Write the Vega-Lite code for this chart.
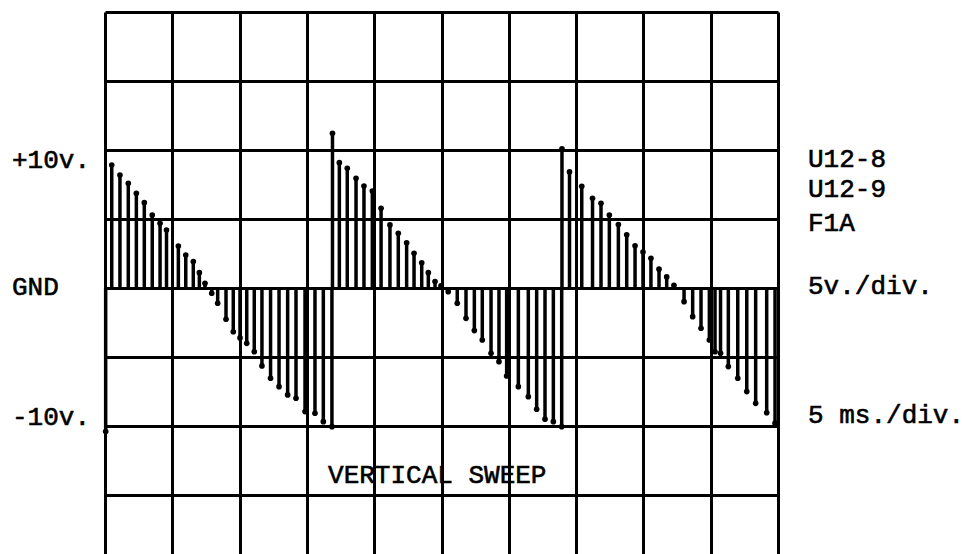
{
  "$schema": "https://vega.github.io/schema/vega-lite/v6.json",
  "width": 673,
  "height": 542,
  "autosize": {"type": "none"},
  "padding": {"left": 105, "top": 12, "right": 189, "bottom": 0},
  "background": "white",
  "config": {"view": {"stroke": null}},
  "datasets": {
    "trace": [
      {"t": 0.05, "v": -10.4},
      {"t": 0.50, "v": 8.91}, {"t": 1.11, "v": 8.19}, {"t": 1.73, "v": 7.59}, {"t": 2.33, "v": 6.86},
      {"t": 2.92, "v": 6.18}, {"t": 3.51, "v": 5.29}, {"t": 4.09, "v": 4.69}, {"t": 4.57, "v": 4.20},
      {"t": 5.45, "v": 3.04}, {"t": 6.00, "v": 2.39}, {"t": 6.56, "v": 1.91}, {"t": 7.01, "v": 1.11},
      {"t": 7.43, "v": 0.34}, {"t": 7.93, "v": -0.38}, {"t": 8.37, "v": -1.11}, {"t": 8.99, "v": -2.27},
      {"t": 9.53, "v": -3.17}, {"t": 10.03, "v": -3.62}, {"t": 10.53, "v": -4.01}, {"t": 11.09, "v": -4.62},
      {"t": 11.66, "v": -5.65}, {"t": 12.30, "v": -6.54}, {"t": 12.93, "v": -7.15}, {"t": 13.57, "v": -7.75},
      {"t": 14.19, "v": -7.99}, {"t": 14.86, "v": -8.96}, {"t": 15.60, "v": -9.08}, {"t": 16.22, "v": -9.69},
      {"t": 16.86, "v": -10.05}, {"t": 16.90, "v": 11.21},
      {"t": 17.41, "v": 9.08}, {"t": 18.00, "v": 8.67}, {"t": 18.65, "v": 7.95}, {"t": 19.24, "v": 7.39},
      {"t": 19.86, "v": 7.03}, {"t": 20.51, "v": 5.78}, {"t": 21.17, "v": 4.57}, {"t": 21.79, "v": 3.96},
      {"t": 22.41, "v": 3.28}, {"t": 22.96, "v": 2.51}, {"t": 23.53, "v": 1.83}, {"t": 24.02, "v": 1.11},
      {"t": 24.52, "v": 0.46}, {"t": 24.96, "v": 0.15}, {"t": 25.50, "v": -0.27}, {"t": 26.17, "v": -1.11},
      {"t": 26.82, "v": -2.20}, {"t": 27.44, "v": -3.09}, {"t": 28.03, "v": -3.77}, {"t": 28.68, "v": -4.73},
      {"t": 29.27, "v": -5.34}, {"t": 29.84, "v": -6.38}, {"t": 30.71, "v": -7.15}, {"t": 31.45, "v": -7.88},
      {"t": 32.07, "v": -8.79}, {"t": 32.69, "v": -9.51}, {"t": 33.31, "v": -9.69}, {"t": 33.93, "v": -10.05},
      {"t": 33.95, "v": 10.09},
      {"t": 34.51, "v": 8.41}, {"t": 35.42, "v": 7.37}, {"t": 36.22, "v": 6.50}, {"t": 36.85, "v": 6.14},
      {"t": 37.47, "v": 5.29}, {"t": 38.14, "v": 4.60}, {"t": 38.76, "v": 3.86}, {"t": 39.38, "v": 3.06},
      {"t": 39.97, "v": 2.61}, {"t": 40.56, "v": 2.15}, {"t": 41.16, "v": 1.36}, {"t": 41.73, "v": 0.80},
      {"t": 42.27, "v": 0.20}, {"t": 43.02, "v": -0.99}, {"t": 43.66, "v": -2.08}, {"t": 44.28, "v": -2.92},
      {"t": 44.90, "v": -3.77}, {"t": 45.32, "v": -4.62}, {"t": 45.73, "v": -4.73}, {"t": 46.31, "v": -5.70},
      {"t": 47.01, "v": -6.54}, {"t": 47.68, "v": -7.51}, {"t": 48.34, "v": -8.36}, {"t": 49.16, "v": -9.04},
      {"t": 49.78, "v": -9.80}
    ],
    "labels": [
      {"label": "+10v.", "t": -6.91, "v": 8.70},
      {"label": "GND", "t": -6.91, "v": -0.51},
      {"label": "-10v.", "t": -6.91, "v": -9.93},
      {"label": "U12-8", "t": 52.23, "v": 8.79},
      {"label": "U12-9", "t": 52.23, "v": 6.57},
      {"label": "F1A", "t": 52.23, "v": 4.15},
      {"label": "5v./div.", "t": 52.23, "v": -0.43},
      {"label": "5 ms./div.", "t": 52.23, "v": -9.76},
      {"label": "VERTICAL SWEEP", "t": 16.57, "v": -14.13}
    ]
  },
  "encoding": {
    "x": {
      "field": "t", "type": "quantitative",
      "scale": {"domain": [0, 50], "nice": false, "zero": false},
      "axis": {"values": [0, 5, 10, 15, 20, 25, 30, 35, 40, 45, 50], "grid": true, "gridColor": "black", "gridWidth": 3, "gridOpacity": 1, "labels": false, "ticks": false, "domain": false, "title": null}
    },
    "y": {
      "field": "v", "type": "quantitative",
      "scale": {"domain": [-19.28, 20], "nice": false, "zero": false},
      "axis": {"values": [20, 15, 10, 5, 0, -5, -10, -15], "grid": true, "gridColor": "black", "gridWidth": 3, "gridOpacity": 1, "labels": false, "ticks": false, "domain": false, "title": null}
    }
  },
  "layer": [
    {
      "data": {"name": "trace"},
      "mark": {"type": "rule", "strokeWidth": 3.5, "color": "black"},
      "encoding": {"y2": {"datum": 0}}
    },
    {
      "data": {"name": "trace"},
      "mark": {"type": "circle", "size": 32, "color": "black", "opacity": 1}
    },
    {
      "data": {"name": "labels"},
      "mark": {"type": "text", "font": "Liberation Mono", "fontSize": 26, "align": "left", "baseline": "alphabetic", "color": "black", "stroke": "black", "strokeWidth": 0.6},
      "encoding": {"text": {"field": "label"}}
    }
  ]
}
